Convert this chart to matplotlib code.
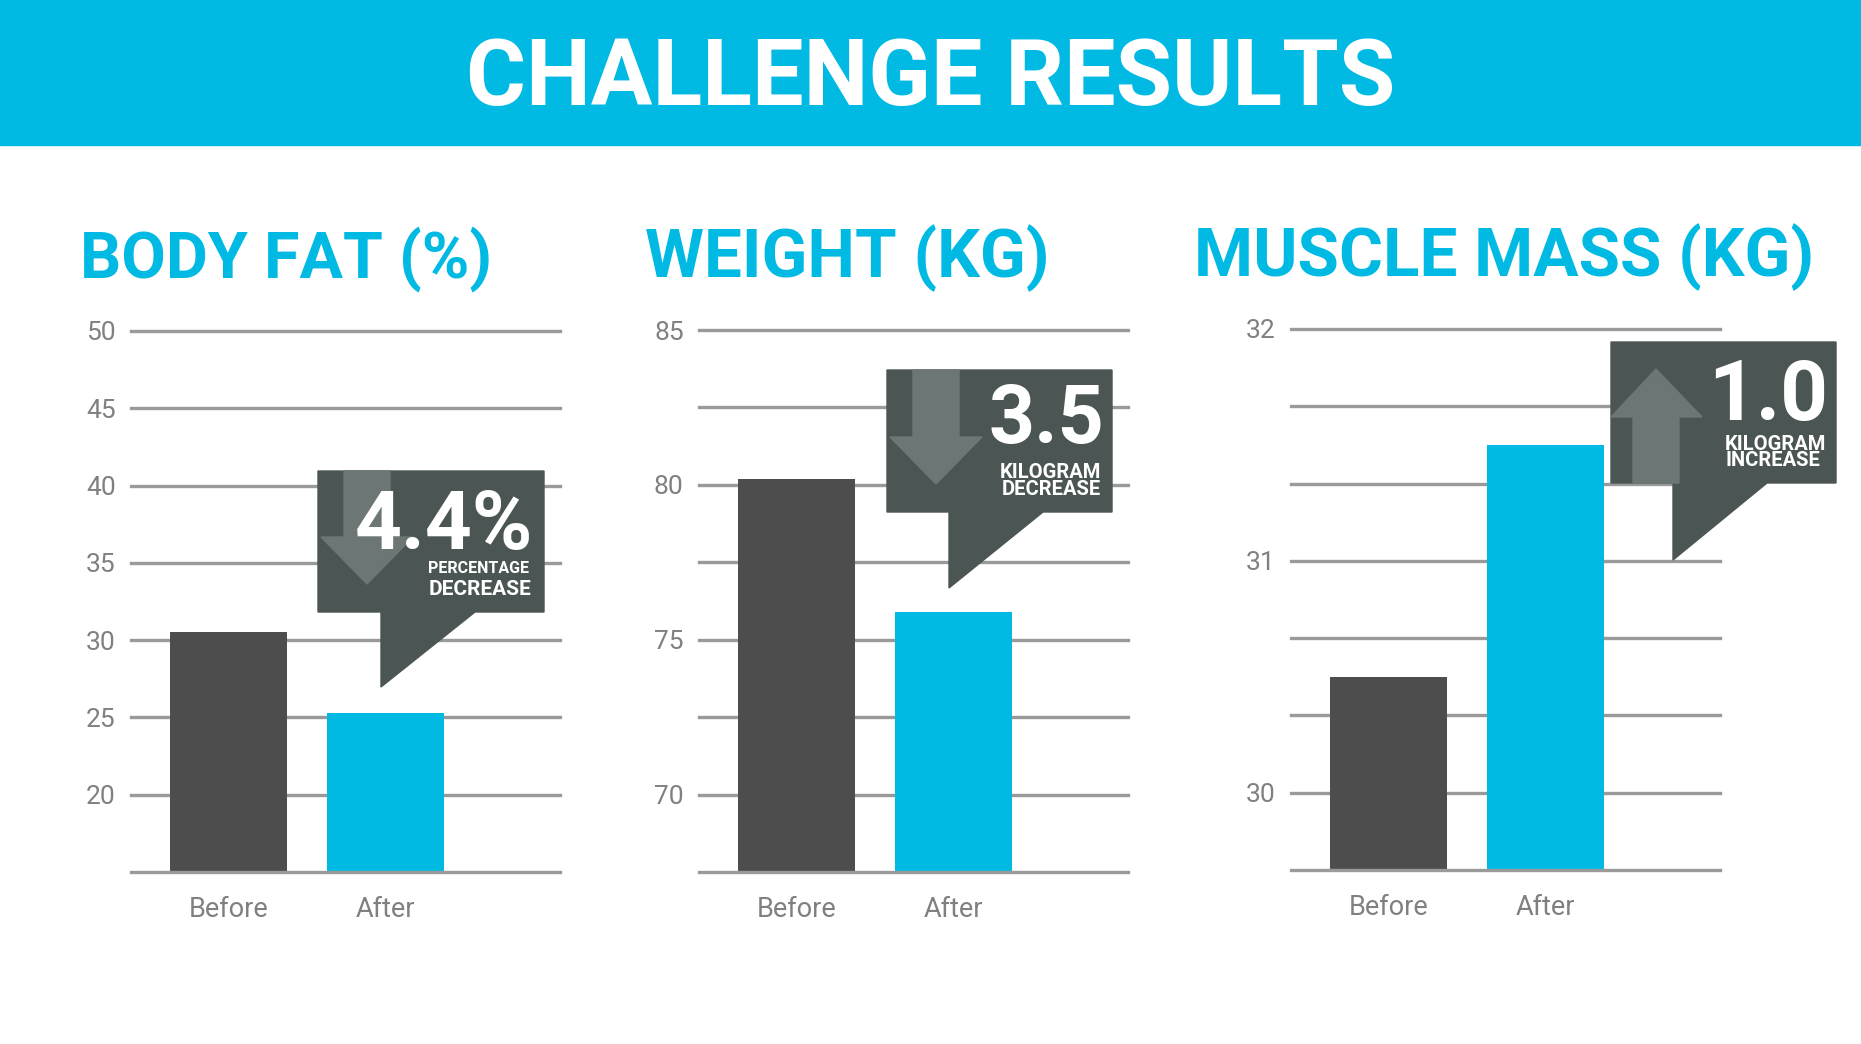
import matplotlib
matplotlib.use("Agg")
import matplotlib.pyplot as plt
import numpy as np
from matplotlib.patches import Polygon, Rectangle
from matplotlib.transforms import Affine2D

W, H = 1861, 1044

CYAN = "#00bae3"
DARK_BAR = "#4d4d4d"
CALLOUT = "#4b5654"
ARROW = "#6c7674"
GRID = "#9a9a9a"
TICK = "#808080"

# data
categories = ["Before", "After"]
panel_titles = ["BODY FAT (%)", "WEIGHT (KG)", "MUSCLE MASS (KG)"]
body_fat = [30.5, 25.3]
weight = [80.2, 75.9]
muscle_mass = [30.5, 31.5]
changes = ["4.4%", "3.5", "1.0"]
change_words = [("PERCENTAGE", "DECREASE"), ("KILOGRAM", "DECREASE"), ("KILOGRAM", "INCREASE")]
change_dirs = ["down", "down", "up"]

body_fat_grid = [15, 20, 25, 30, 35, 40, 45, 50]
body_fat_ticks = [20, 25, 30, 35, 40, 45, 50]
weight_grid = [67.5, 70, 72.5, 75, 77.5, 80, 82.5, 85]
weight_ticks = [70, 75, 80, 85]
muscle_grid = [29 + 2 / 3, 30, 30 + 1 / 3, 30 + 2 / 3, 31, 31 + 1 / 3, 31 + 2 / 3, 32]
muscle_ticks = [30, 31, 32]

plt.rcParams["font.family"] = ["Roboto", "DejaVu Sans"]

fig = plt.figure(figsize=(W / 100, H / 100), dpi=100)
# pixel coordinates, y measured from the top
px = Affine2D().scale(1 / W, -1 / H).translate(0, 1) + fig.transFigure

# banner
fig.patches.append(Rectangle((0, 0), W, 145, transform=px, color=CYAN, zorder=0))
fig.text(930.5, 105, "CHALLENGE RESULTS", transform=px, ha="center", va="baseline",
         color="white", fontsize=66, fontweight="bold")

panels = [
    dict(x0=131, top=331, bottom=872, vals=body_fat, grid=body_fat_grid,
         ticks=body_fat_ticks, title_x=80, title_y=278, title_fs=46.5),
    dict(x0=699, top=330, bottom=872, vals=weight, grid=weight_grid,
         ticks=weight_ticks, title_x=645, title_y=277, title_fs=48.5),
    dict(x0=1291, top=329, bottom=870, vals=muscle_mass, grid=muscle_grid,
         ticks=muscle_ticks, title_x=1194, title_y=276, title_fs=48.5),
]
AX_W = 429

for i, p in enumerate(panels):
    ax = fig.add_axes([p["x0"] / W, 1 - p["bottom"] / H, AX_W / W,
                       (p["bottom"] - p["top"]) / H])
    lo, hi = p["grid"][0], p["grid"][-1]
    ax.set_ylim(lo, hi)
    ax.set_xlim(-0.62, 2.11)
    for g in p["grid"]:
        ax.axhline(g, color=GRID, lw=2.4, zorder=3 if g == lo else 1, clip_on=False)
    ax.bar([0, 1], p["vals"], width=0.74, color=[DARK_BAR, CYAN], zorder=2)
    ax.set_yticks(p["ticks"], [f"{t:g}" for t in p["ticks"]])
    ax.set_xticks([0, 1], categories)
    ax.tick_params(axis="y", length=0, pad=11, labelsize=19, labelcolor=TICK)
    ax.tick_params(axis="x", length=0, pad=17, labelsize=19.5, labelcolor=TICK)
    for s in ax.spines.values():
        s.set_visible(False)
    ax.patch.set_visible(False)
    fig.text(p["title_x"], p["title_y"], panel_titles[i], transform=px,
             ha="left", va="baseline", color=CYAN, fontsize=p["title_fs"],
             fontweight="bold")

# callouts: box, tail, arrow, number, two words
callouts = [
    dict(box=(318, 471, 544, 612), tail=(381, 475, 687), arrow_x=367,
         head=(537, 584), num=(533, 549, 59), w1=(529, 573, 11.5), w2=(531, 595, 15)),
    dict(box=(887, 370, 1112, 512), tail=(949, 1043, 588), arrow_x=936,
         head=(437, 484), num=(1104, 443, 58), w1=(1101, 478, 14.5), w2=(1101, 495, 14.5)),
    dict(box=(1611, 342, 1836, 483), tail=(1673, 1767, 560), arrow_x=1656,
         head=(417, 369), num=(1828, 420, 60), w1=(1826, 450, 14.5), w2=(1820, 466, 14.5)),
]

for i, c in enumerate(callouts):
    x0, y0, x1, y1 = c["box"]
    tl, tr, ty = c["tail"]
    outline = [(x0, y0), (x1, y0), (x1, y1), (tr, y1), (tl, ty), (tl, y1), (x0, y1)]
    fig.patches.append(Polygon(outline, closed=True, transform=px, color=CALLOUT, zorder=5))
    ax_ = c["arrow_x"]
    base, tip = c["head"]
    sw, hw = 23, 46
    if change_dirs[i] == "down":
        pts = [(ax_ - sw, y0), (ax_ + sw, y0), (ax_ + sw, base), (ax_ + hw, base),
               (ax_, tip), (max(ax_ - hw, x0), base), (ax_ - sw, base)]
    else:
        pts = [(ax_ - sw, y1), (ax_ + sw, y1), (ax_ + sw, base), (ax_ + hw, base),
               (ax_, tip), (max(ax_ - hw, x0), base), (ax_ - sw, base)]
    fig.patches.append(Polygon(pts, closed=True, transform=px, color=ARROW, zorder=6))
    nx, ny, nfs = c["num"]
    fig.text(nx, ny, changes[i], transform=px, ha="right", va="baseline",
             color="white", fontsize=nfs, fontweight="bold", zorder=7)
    for (wx, wy, wfs), word in zip((c["w1"], c["w2"]), change_words[i]):
        fig.text(wx, wy, word, transform=px, ha="right", va="baseline",
                 color="white", fontsize=wfs, fontweight="bold", zorder=7)

fig.savefig("out.png", dpi=100)
